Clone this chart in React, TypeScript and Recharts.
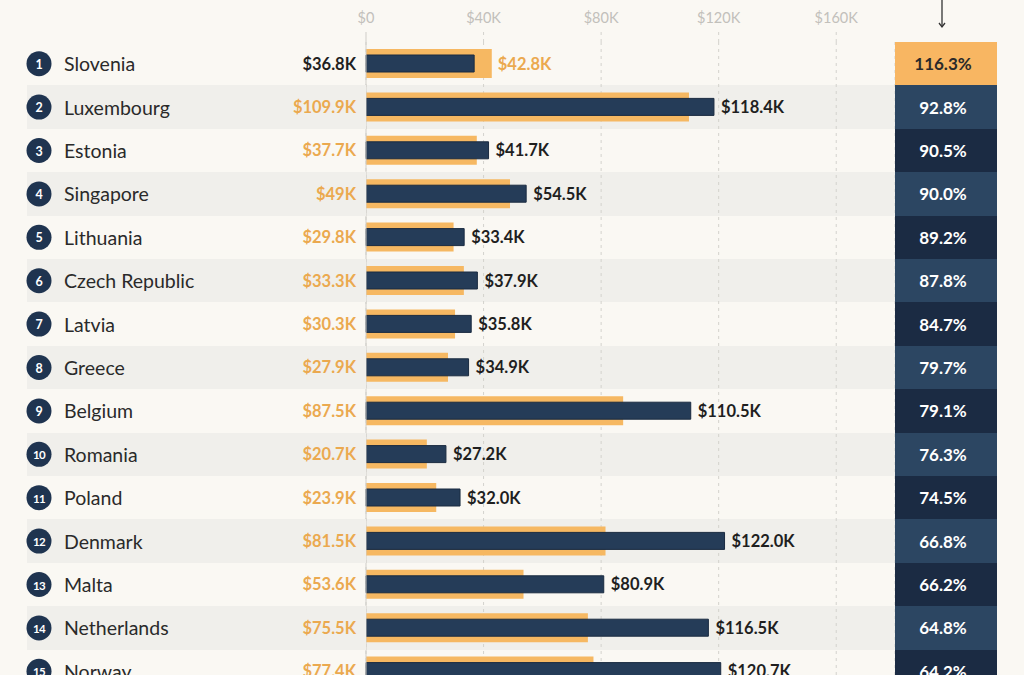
import React from 'react';
import { BarChart, Bar, XAxis, YAxis, CartesianGrid, ReferenceLine, LabelList } from 'recharts';

const countries = ['Slovenia', 'Luxembourg', 'Estonia', 'Singapore', 'Lithuania', 'Czech Republic', 'Latvia', 'Greece', 'Belgium', 'Romania', 'Poland', 'Denmark', 'Malta', 'Netherlands', 'Norway'];
const orangeValues = [42.8, 109.9, 37.7, 49, 29.8, 33.3, 30.3, 27.9, 87.5, 20.7, 23.9, 81.5, 53.6, 75.5, 77.4];
const navyValues = [36.8, 118.4, 41.7, 54.5, 33.4, 37.9, 35.8, 34.9, 110.5, 27.2, 32.0, 122.0, 80.9, 116.5, 120.7];
const orangeLabels = ['$42.8K', '$109.9K', '$37.7K', '$49K', '$29.8K', '$33.3K', '$30.3K', '$27.9K', '$87.5K', '$20.7K', '$23.9K', '$81.5K', '$53.6K', '$75.5K', '$77.4K'];
const navyLabels = ['$36.8K', '$118.4K', '$41.7K', '$54.5K', '$33.4K', '$37.9K', '$35.8K', '$34.9K', '$110.5K', '$27.2K', '$32.0K', '$122.0K', '$80.9K', '$116.5K', '$120.7K'];
const ratioLabels = ['116.3%', '92.8%', '90.5%', '90.0%', '89.2%', '87.8%', '84.7%', '79.7%', '79.1%', '76.3%', '74.5%', '66.8%', '66.2%', '64.8%', '64.2%'];
const xTicks = [0, 40, 80, 120, 160];
const xTickLabels = ['$0', '$40K', '$80K', '$120K', '$160K'];

const data = countries.map((name, i) => ({
  name,
  orange: orangeValues[i],
  navy: navyValues[i],
}));

const FONT = "Lato, 'Open Sans', sans-serif";
const BG = '#faf8f3';
const STRIPE = '#f0efeb';
const ORANGE = '#f6b862';
const ORANGE_TEXT = '#eba94f';
const NAVY = '#253c58';
const DARK_TEXT = '#1f1f1f';

const CHART_W = 1024;
const CHART_H = 700;
const MARGIN = { top: 0, right: 27, bottom: 7, left: 0 };
const X_AXIS_H = 42;
const LEFT_W = 366;
const RIGHT_W = 102;
const PLOT_H = CHART_H - MARGIN.top - MARGIN.bottom - X_AXIS_H;
const ROW_H = PLOT_H / countries.length;

const XTick = (props: any) => {
  const { x, y, payload, index } = props;
  const i = typeof index === 'number' ? index : xTicks.indexOf(payload.value);
  return (
    <g>
      <line x1={x} x2={x} y1={y - 10} y2={y} stroke={i === 0 ? '#cfcdc8' : '#d3d2cd'} strokeDasharray={i === 0 ? undefined : '3 4'} />
      <text x={x} y={y - 25} textAnchor="middle" dominantBaseline="central" fill="#c2c0bb" fontSize={14.5} fontFamily={FONT}>
        {xTickLabels[i]}
      </text>
    </g>
  );
};

const LeftTick = (props: any) => {
  const { x, y, payload } = props;
  const i = typeof props.index === 'number' ? props.index : countries.indexOf(payload.value);
  const top = Math.round(y - ROW_H / 2);
  const bottom = Math.round(y + ROW_H / 2);
  return (
    <g>
      {i % 2 === 1 && <rect x={x - 339} y={top} width={339} height={bottom - top} fill={STRIPE} />}
      <circle cx={x - 327} cy={y} r={12.5} fill="#1f3450" />
      <text x={x - 327} y={y + 0.5} textAnchor="middle" dominantBaseline="central" fill="#ffffff" fontSize={i >= 9 ? 11.5 : 12.5} letterSpacing={i >= 9 ? -0.6 : 0} fontWeight={700} fontFamily={FONT}>
        {i + 1}
      </text>
      <text x={x - 302} y={y} textAnchor="start" dominantBaseline="central" fill="#2a2a2a" fontSize={19.5} fontFamily={FONT}>
        {payload.value}
      </text>
    </g>
  );
};

const RightTick = (props: any) => {
  const { x, y, payload } = props;
  const i = typeof props.index === 'number' ? props.index : countries.indexOf(payload.value);
  const top = Math.round(y - ROW_H / 2);
  const bottom = Math.round(y + ROW_H / 2);
  const fill = i === 0 ? '#f8b662' : i % 2 === 1 ? '#2c4662' : '#1b2b43';
  const cx = x + 48;
  return (
    <g>
      <rect x={x} y={top} width={RIGHT_W} height={bottom - top} fill={fill} />
      <text x={cx} y={y} textAnchor="middle" dominantBaseline="central" fill={i === 0 ? '#2a2a2a' : '#ffffff'} fontSize={17} fontWeight={700} fontFamily={FONT}>
        {ratioLabels[i]}
      </text>
      {i === 0 && (
        <g stroke="#333333" strokeWidth={1.3} fill="none">
          <line x1={cx - 1} x2={cx - 1} y1={top - 43} y2={top - 15} />
          <polyline points={`${cx - 4},${top - 19} ${cx - 1},${top - 15} ${cx + 2},${top - 19}`} />
        </g>
      )}
    </g>
  );
};

const getBox = (props: any) => {
  const vb = props.viewBox || {};
  return {
    x: props.x ?? vb.x,
    y: props.y ?? vb.y,
    width: props.width ?? vb.width,
    height: props.height ?? vb.height,
  };
};

const OrangeLabel = (props: any) => {
  const { index } = props;
  const { x, y, width, height } = getBox(props);
  const d = data[index];
  if (!d) return null;
  const cy = y + height / 2;
  if (d.orange > d.navy) {
    return (
      <text x={x + width + 6} y={cy} textAnchor="start" dominantBaseline="central" fill={ORANGE_TEXT} fontSize={16.5} fontWeight={700} fontFamily={FONT}>
        {orangeLabels[index]}
      </text>
    );
  }
  return (
    <text x={x - 10} y={cy} textAnchor="end" dominantBaseline="central" fill={ORANGE_TEXT} fontSize={16.5} fontWeight={700} fontFamily={FONT}>
      {orangeLabels[index]}
    </text>
  );
};

const NavyLabel = (props: any) => {
  const { index } = props;
  const { x, y, width, height } = getBox(props);
  const d = data[index];
  if (!d) return null;
  const cy = y + height / 2;
  if (d.navy > d.orange) {
    return (
      <text x={x + width + 7} y={cy} textAnchor="start" dominantBaseline="central" fill={DARK_TEXT} fontSize={16.5} fontWeight={700} fontFamily={FONT}>
        {navyLabels[index]}
      </text>
    );
  }
  return (
    <text x={x - 10} y={cy} textAnchor="end" dominantBaseline="central" fill={DARK_TEXT} fontSize={16.5} fontWeight={700} fontFamily={FONT}>
      {navyLabels[index]}
    </text>
  );
};

export default function App() {
  return (
    <div style={{ position: 'absolute', left: 0, top: 0, width: 1024, height: 675, overflow: 'hidden', background: BG }}>
      <BarChart
        width={CHART_W}
        height={CHART_H}
        data={data}
        layout="vertical"
        margin={MARGIN}
      >
        <CartesianGrid
          xAxisId="x"
          yAxisId="left"
          stroke="#d3d2cd"
          strokeDasharray="3 4"
          horizontal={(p: any) => <g key={p.key} />}
          horizontalFill={['rgba(0,0,0,0)', STRIPE]}
          horizontalCoordinatesGenerator={({ offset }: any) =>
            countries.map((_, i) => offset.top + (i * offset.height) / countries.length)
          }
        />
        <XAxis
          xAxisId="x"
          type="number"
          orientation="top"
          domain={[0, 180]}
          ticks={xTicks}
          interval={0}
          height={X_AXIS_H}
          axisLine={false}
          tickLine={false}
          tickSize={0}
          tickMargin={0}
          tick={<XTick />}
        />
        <YAxis
          yAxisId="left"
          type="category"
          dataKey="name"
          orientation="left"
          width={LEFT_W}
          interval={0}
          axisLine={false}
          tickLine={false}
          tickSize={0}
          tickMargin={0}
          tick={<LeftTick />}
        />
        <YAxis
          yAxisId="right"
          type="category"
          dataKey="name"
          orientation="right"
          width={RIGHT_W}
          interval={0}
          axisLine={false}
          tickLine={false}
          tickSize={0}
          tickMargin={0}
          tick={<RightTick />}
        />
        <Bar xAxisId="x" yAxisId="left" dataKey="orange" fill={ORANGE} barSize={29} isAnimationActive={false}>
          <LabelList dataKey="orange" content={<OrangeLabel />} />
        </Bar>
        <Bar xAxisId="x" yAxisId="right" dataKey="navy" fill={NAVY} stroke="#1a2b40" strokeWidth={1} barSize={17} isAnimationActive={false}>
          <LabelList dataKey="navy" content={<NavyLabel />} />
        </Bar>
        <ReferenceLine xAxisId="x" yAxisId="left" x={0} stroke="#cfcdc8" strokeWidth={1} />
      </BarChart>
    </div>
  );
}
